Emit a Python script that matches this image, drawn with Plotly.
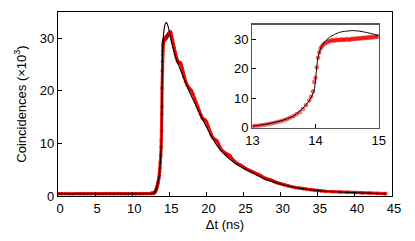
import plotly.graph_objects as go

# ---- measured data (counts in units of 10^3) ----
t_data = [0.0, 0.5, 1.0, 1.5, 2.0, 2.5, 3.0, 3.5, 4.0, 4.5, 5.0, 5.5, 6.0, 6.5, 7.0, 7.5,
          8.0, 8.5, 9.0, 9.5, 10.0, 10.5, 11.0, 11.5, 12.0, 12.5,
          12.6, 12.7, 12.8, 12.9, 13.0, 13.05, 13.1, 13.15, 13.2, 13.25, 13.3, 13.35, 13.4,
          13.45, 13.5, 13.55, 13.6, 13.65, 13.7, 13.75, 13.8, 13.85, 13.9, 13.93, 13.96,
          13.98, 14.0, 14.02, 14.04, 14.06, 14.08,
          14.1, 14.125, 14.15, 14.175, 14.2, 14.225, 14.25, 14.275, 14.3, 14.325, 14.35,
          14.375, 14.4, 14.425, 14.45, 14.475, 14.5, 14.525, 14.55, 14.575, 14.6, 14.625,
          14.65, 14.675, 14.7, 14.725, 14.75, 14.775, 14.8, 14.825, 14.85, 14.875, 14.9,
          14.925, 14.95, 14.975, 15.0,
          15.1, 15.2, 15.3, 15.4, 15.5, 15.6, 15.7, 15.8, 15.9, 16.0, 16.1, 16.2, 16.3,
          16.4, 16.5, 16.6, 16.7, 16.8, 16.9, 17.0, 17.2, 17.4, 17.6, 17.8, 18.0, 18.2,
          18.4, 18.6, 18.8, 19.0, 19.2, 19.4, 19.6, 19.8, 20.0, 20.2, 20.4, 20.6, 20.8,
          21.0, 21.2, 21.4, 21.6, 21.8, 22.0, 22.3, 22.6, 22.9, 23.2, 23.5, 23.8, 24.1,
          24.4, 24.7, 25.0, 25.3, 25.6, 25.9, 26.2, 26.5, 26.8, 27.1, 27.4, 27.7, 28.0,
          28.3, 28.6, 28.9, 29.2, 29.5, 29.8, 30.1, 30.5, 31.0, 31.5, 32.0, 32.5, 33.0,
          33.5, 34.0, 34.5, 35.0, 35.5, 36.0, 37.0, 38.0, 39.0, 40.0, 41.0, 42.0, 43.0,
          44.0, 44.2]
counts_data = [0.45, 0.42, 0.47, 0.44, 0.43, 0.46, 0.42, 0.45, 0.44, 0.47, 0.43, 0.45,
               0.42, 0.46, 0.44, 0.43, 0.47, 0.44, 0.45, 0.42, 0.46, 0.44, 0.45, 0.47,
               0.46, 0.5,
               0.5, 0.52, 0.55, 0.57, 0.62, 0.7, 0.82, 0.95, 1.1, 1.3, 1.5, 1.75, 2.0,
               2.3, 2.6, 3.0, 3.5, 4.0, 4.6, 5.3, 6.4, 7.7, 9.3, 10.6, 12.4,
               15.6, 17.0, 20.5, 23.8, 25.6, 26.9,
               27.6, 28.2, 28.7, 29.0, 29.3, 29.5, 29.6, 29.8, 29.6, 29.8, 29.9, 29.7,
               29.9, 30.0, 29.8, 30.0, 30.1, 29.9, 30.0, 30.2, 30.1, 30.3, 30.2, 30.4,
               30.3, 30.5, 30.4, 30.6, 30.5, 30.7, 30.6, 30.8, 30.7, 30.9, 30.8, 31.0,
               30.9,
               31.3, 31.1, 30.5, 29.8, 29.0, 28.3, 27.6, 27.0, 26.5, 26.1, 25.7, 25.4,
               25.3, 25.4, 25.3, 25.0, 24.4, 23.8, 23.2, 22.6, 21.8, 21.1, 20.6, 20.3,
               20.0, 19.4, 18.6, 17.8, 17.0, 16.2, 15.5, 14.9, 14.6, 14.5, 14.1, 13.3,
               12.4, 11.7, 11.2, 10.9, 10.7, 10.5, 10.0, 9.3, 8.8, 8.4, 8.1, 7.9, 7.6,
               7.0, 6.5, 6.2, 6.0, 5.8, 5.5, 5.2, 5.0, 4.8, 4.6, 4.4, 4.2, 4.1, 3.8, 3.5,
               3.3, 3.2, 3.1, 2.9, 2.65, 2.5, 2.4, 2.3, 2.1, 1.9, 1.75, 1.6, 1.5, 1.38,
               1.25, 1.15, 1.05, 1.0, 0.95, 0.9, 0.82, 0.75, 0.68, 0.62, 0.58, 0.52,
               0.48, 0.45, 0.45]

# ---- fitted model curve ----
t_fit = [0, 5, 10, 12, 12.5, 13.0, 13.27, 13.48, 13.64, 13.8, 13.91, 13.98, 14.01, 14.04,
         14.09, 14.15, 14.22, 14.3, 14.38, 14.48, 14.59, 14.7, 14.8, 14.9, 15.0, 15.3,
         15.6, 16.0, 16.5, 17.0, 17.5, 18.0, 18.65, 19.1, 19.7, 20.44, 21.1, 21.8, 22.6,
         23.6, 24.7, 25.8, 27.0, 28.07, 29.2, 30.3, 31.4, 32.5, 33.6, 34.8, 36.0, 37.3,
         38.5, 39.7, 41.0, 42.5, 44.2]
counts_fit = [0.4, 0.4, 0.4, 0.42, 0.45, 0.57, 1.5, 2.6, 3.9, 6.7, 9.5, 12.9, 18.5, 24.0,
              27.4, 29.3, 30.7, 31.7, 32.4, 32.8, 33.0, 32.8, 32.4, 31.9, 31.3, 29.2,
              27.6, 25.8, 24.0, 22.2, 20.5, 18.9, 17.0, 15.7, 14.0, 12.0, 10.3, 8.9, 7.7,
              6.5, 5.5, 4.7, 3.8, 3.1, 2.6, 2.15, 1.8, 1.5, 1.25, 1.05, 0.9, 0.8, 0.72,
              0.66, 0.58, 0.5, 0.44]

FONT = "Liberation Sans, Arial, sans-serif"
FS = 13

fig = go.Figure()

# main panel
fig.add_trace(go.Scatter(x=t_data, y=counts_data, mode="lines+markers",
                         line=dict(color="rgba(255,0,0,0.9)", width=3.2),
                         marker=dict(size=3, color="rgba(255,0,0,0.6)",
                                     line=dict(color="rgba(150,0,0,0.7)", width=0.5)),
                         xaxis="x", yaxis="y", showlegend=False))
fig.add_trace(go.Scatter(x=t_fit, y=counts_fit, mode="lines",
                         line=dict(color="black", width=1.1, shape="spline", smoothing=0.6),
                         xaxis="x", yaxis="y", showlegend=False))

# inset
fig.add_trace(go.Scatter(x=t_data, y=counts_data, mode="markers",
                         marker=dict(size=4, color="rgba(255,0,0,0.55)",
                                     line=dict(color="rgba(220,0,0,0.7)", width=0.5)),
                         xaxis="x2", yaxis="y2", showlegend=False, cliponaxis=True))
fig.add_trace(go.Scatter(x=t_fit, y=counts_fit, mode="lines",
                         line=dict(color="black", width=1, shape="spline", smoothing=0.6),
                         xaxis="x2", yaxis="y2", showlegend=False))

axis_common = dict(showgrid=False, zeroline=False, showline=True, mirror=True,
                   ticks="inside", ticklen=4, tickcolor="black", automargin=False,
                   tickfont=dict(family=FONT, size=FS, color="black"))

fig.update_layout(
    width=415, height=241,
    margin=dict(l=58, r=22.5, t=12, b=45),
    paper_bgcolor="white", plot_bgcolor="white",
    font=dict(family=FONT, size=FS, color="black"),
    xaxis=dict(range=[0, 45], dtick=5, tick0=0, linecolor="black", linewidth=1.2,
               domain=[0, 1], ticklabelshift=2,
               title=dict(text="Δt (ns)", font=dict(family=FONT, size=FS), standoff=5),
               **axis_common),
    yaxis=dict(range=[0, 35], dtick=10, tick0=0, linecolor="black", linewidth=1.2,
               domain=[0, 1],
               title=dict(text="Coincidences (×10<sup>3</sup>)",
                          font=dict(family=FONT, size=FS), standoff=10),
               **axis_common),
    xaxis2=dict(range=[13, 15], dtick=1, tick0=13, linecolor="#555", linewidth=1.2,
                domain=[0.582, 0.96], anchor="y2", **axis_common),
    yaxis2=dict(range=[0, 35], dtick=10, tick0=0, linecolor="#555", linewidth=1.2,
                domain=[0.37, 0.931], anchor="x2", **axis_common),
)

fig.write_html("out.html", config={"displayModeBar": False, "staticPlot": True},
               post_script="document.body.style.margin='0';document.body.style.overflow='hidden';")
